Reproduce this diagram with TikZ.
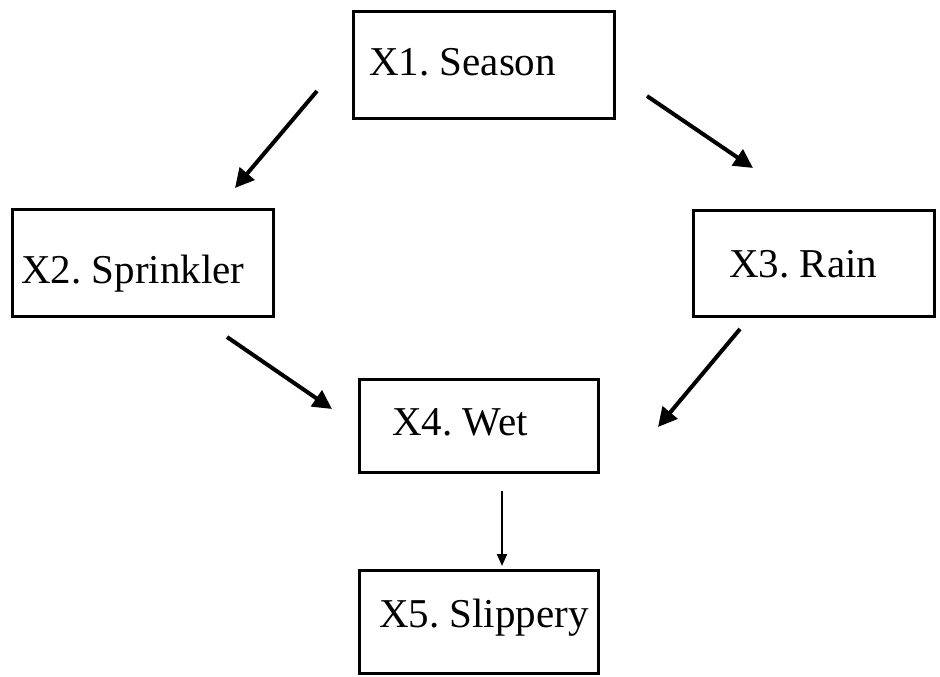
\documentclass[tikz,border=0pt]{standalone}
\usepackage{fontspec}
\setmainfont{Liberation Serif}
\usetikzlibrary{arrows.meta}
\frenchspacing
\begin{document}
\begin{tikzpicture}[x=1pt,y=-1pt,
  box/.style={draw=black, line width=2.7pt, fill=white, anchor=north west, inner sep=0pt},
  lbl/.style={anchor=base west, inner sep=0pt, font=\fontsize{41}{48}\selectfont},
  bigarrow/.style={line width=4pt, -{Triangle[length=19pt,width=19pt]}},
  smallarrow/.style={line width=2pt, -{Triangle[length=12pt,width=10pt]}}]
\useasboundingbox (0,0) rectangle (940,677);
% boxes
\node[box, minimum width=261pt, minimum height=107pt] (x1) at (352,10) {};
\node[box, minimum width=261pt, minimum height=107pt] (x2) at (11,208) {};
\node[box, minimum width=241pt, minimum height=106pt] (x3) at (692,209) {};
\node[box, minimum width=239pt, minimum height=93pt] (x4) at (358,378) {};
\node[box, minimum width=239pt, minimum height=103pt] (x5) at (358,569) {};
% labels
\node[lbl] (t1) at (369,75) {X1. Season};
\node[lbl] (t2) at (21,283) {X2. Sprinkler};
\node[lbl] (t3) at (729,277) {X3. Rain};
\node[lbl] (t4) at (392,435) {X4. Wet};
\node[lbl] (t5) at (379,627) {X5. Slippery};
% arrow end points
\coordinate (a12s) at (317,91);  \coordinate (a12e) at (235,188);
\coordinate (a13s) at (647,96);  \coordinate (a13e) at (753,168);
\coordinate (a24s) at (227,337); \coordinate (a24e) at (332,409);
\coordinate (a34s) at (740,329); \coordinate (a34e) at (658,427);
\coordinate (a45s) at (502,491); \coordinate (a45e) at (502,566);
% arrows
\draw[bigarrow] (a12s) -- (a12e);
\draw[bigarrow] (a13s) -- (a13e);
\draw[bigarrow] (a24s) -- (a24e);
\draw[bigarrow] (a34s) -- (a34e);
\draw[smallarrow] (a45s) -- (a45e);
\end{tikzpicture}
\end{document}
